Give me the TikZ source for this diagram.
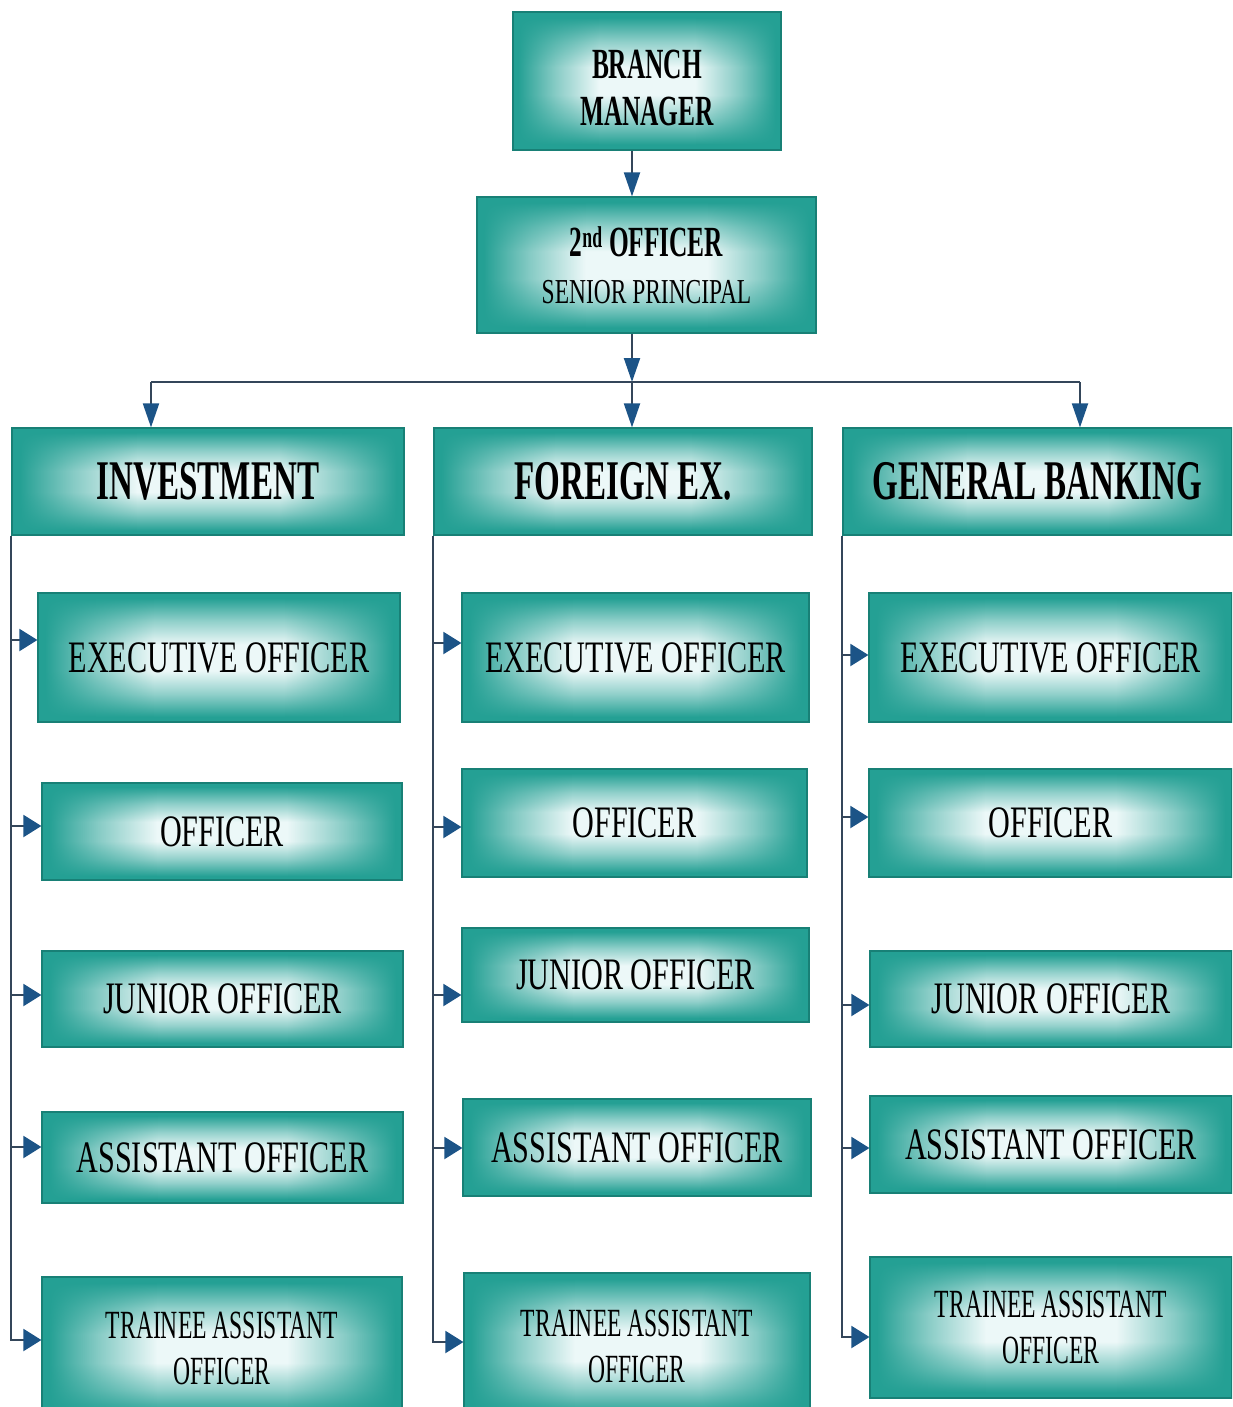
\documentclass[tikz,border=0pt]{standalone}
\usepackage{fontspec}
\setmainfont{Liberation Serif}
\newfontfamily\regfont[FakeStretch=0.67]{Liberation Serif}
\newfontfamily\narfont[FakeStretch=0.59]{Liberation Serif}
\usetikzlibrary{arrows.meta,fadings}

\definecolor{tealc}{RGB}{36,160,148}
\definecolor{tealdk}{RGB}{24,128,118}
\definecolor{glowc}{RGB}{236,248,248}
\definecolor{linec}{RGB}{52,70,90}
\definecolor{tipc}{RGB}{28,84,135}

% vertical profile of the glow: teal bands at top and bottom, pale band in the middle
\pgfdeclareverticalshading{vglow}{100bp}{%
  color(0bp)=(tealc); color(27bp)=(tealc); color(36bp)=(tealc!45!glowc);
  color(45bp)=(glowc); color(55bp)=(glowc); color(64bp)=(tealc!45!glowc);
  color(73bp)=(tealc); color(100bp)=(tealc)}
% horizontal mask of the glow: it fades out towards the left and right sides
\pgfdeclarehorizontalshading{sidemask}{100bp}{%
  color(0bp)=(black); color(26bp)=(black); color(33bp)=(black!50!white);
  color(41bp)=(white); color(59bp)=(white); color(67bp)=(black!50!white);
  color(74bp)=(black); color(100bp)=(black)}
\pgfdeclarefading{sidefade}{\pgfuseshading{sidemask}}

% box given by its left, top, right and bottom edges
\newcommand{\orgbox}[7]{%
  \node[#1, minimum width={#5-#3}, minimum height={#6-#4}] (#2)
    at ({(#3+#5)/2},{(#4+#6)/2}) {#7};}

\begin{document}
\begin{tikzpicture}[x=1pt,y=-1pt,
  box/.style={rectangle, fill=tealc, draw=tealdk, line width=1.2pt,
    inner sep=0pt, align=center, text=black,
    path picture={\shade[shading=vglow, path fading=sidefade]
      (path picture bounding box.south west) rectangle
      (path picture bounding box.north east);}},
  conn/.style={draw=linec, line width=2pt},
  arrv/.style={conn, -{Triangle[length=24pt,width=16pt,fill=tipc,color=tipc]}},
  arrh/.style={conn, -{Triangle[length=18pt,width=22pt,fill=tipc,color=tipc]}},
  head/.style={box, font=\narfont\bfseries\fontsize{43}{47}\selectfont},
  dept/.style={box, font=\narfont\bfseries\fontsize{56}{60}\selectfont},
  rank/.style={box, font=\regfont\fontsize{45}{50}\selectfont},
  trainee/.style={box, font=\narfont\fontsize{40}{46}\selectfont},
]
\fill[white] (0,0) rectangle (1232,1407);
\useasboundingbox (0,0) rectangle (1232,1407);
\begin{scope}
\clip (0,0) rectangle (1232,1407);

% top of the hierarchy
\orgbox{head}{BM}{513}{12}{781}{150}{\\[-4pt]BRANCH\\MANAGER}
\orgbox{head}{SO}{477}{197}{816}{333}{%
  2\textsuperscript{nd} OFFICER\\
  {\regfont\mdseries\fontsize{35}{48}\selectfont SENIOR PRINCIPAL}}

% departments
\orgbox{dept}{INV}{12}{428}{404}{535}{INVESTMENT}
\orgbox{dept}{FX}{434}{428}{812}{535}{FOREIGN EX.}
\orgbox{dept}{GB}{843}{428}{1232}{535}{GENERAL BANKING}

% investment ranks
\orgbox{rank}{I1}{38}{593}{400}{722}{EXECUTIVE OFFICER}
\orgbox{rank}{I2}{42}{783}{402}{880}{OFFICER}
\orgbox{rank}{I3}{42}{951}{403}{1047}{JUNIOR OFFICER}
\orgbox{rank}{I4}{42}{1112}{403}{1203}{ASSISTANT OFFICER}
\orgbox{trainee}{I5}{42}{1277}{402}{1420}{TRAINEE ASSISTANT\\OFFICER}

% foreign exchange ranks
\orgbox{rank}{F1}{462}{593}{809}{722}{EXECUTIVE OFFICER}
\orgbox{rank}{F2}{462}{769}{807}{877}{OFFICER}
\orgbox{rank}{F3}{462}{928}{809}{1022}{JUNIOR OFFICER}
\orgbox{rank}{F4}{463}{1099}{811}{1196}{ASSISTANT OFFICER}
\orgbox{trainee}{F5}{464}{1273}{810}{1420}{TRAINEE ASSISTANT\\OFFICER}

% general banking ranks
\orgbox{rank}{G1}{869}{593}{1232}{722}{EXECUTIVE OFFICER}
\orgbox{rank}{G2}{869}{769}{1232}{877}{OFFICER}
\orgbox{rank}{G3}{870}{951}{1232}{1047}{JUNIOR OFFICER}
\orgbox{rank}{G4}{870}{1096}{1232}{1193}{ASSISTANT OFFICER}
\orgbox{trainee}{G5}{870}{1257}{1232}{1398}{TRAINEE ASSISTANT\\OFFICER}

% branching bar
\coordinate (jl) at (151,382);
\coordinate (jm) at (632,382);
\coordinate (jr) at (1080,382);

\draw[arrv] (BM.south -| jm) -- (SO.north -| jm);
\draw[arrv] (SO.south -| jm) -- (jm);
\draw[conn] (jl) -- (jr);
\draw[arrv] (jl) -- (INV.north -| jl);
\draw[arrv] (jm) -- (FX.north -| jm);
\draw[arrv] (jr) -- (GB.north -| jr);

% investment spine
\draw[arrh] (INV.south west) |- (I5.west |- 0,1340);
\draw[arrh] (INV.south west |- 0,640) -- (I1.west |- 0,640);
\draw[arrh] (INV.south west |- 0,826) -- (I2.west |- 0,826);
\draw[arrh] (INV.south west |- 0,995) -- (I3.west |- 0,995);
\draw[arrh] (INV.south west |- 0,1147) -- (I4.west |- 0,1147);

% foreign exchange spine
\draw[arrh] (FX.south west) |- (F5.west |- 0,1342);
\draw[arrh] (FX.south west |- 0,643) -- (F1.west |- 0,643);
\draw[arrh] (FX.south west |- 0,827) -- (F2.west |- 0,827);
\draw[arrh] (FX.south west |- 0,995) -- (F3.west |- 0,995);
\draw[arrh] (FX.south west |- 0,1148) -- (F4.west |- 0,1148);

% general banking spine
\draw[arrh] (GB.south west) |- (G5.west |- 0,1337);
\draw[arrh] (GB.south west |- 0,655) -- (G1.west |- 0,655);
\draw[arrh] (GB.south west |- 0,817) -- (G2.west |- 0,817);
\draw[arrh] (GB.south west |- 0,1005) -- (G3.west |- 0,1005);
\draw[arrh] (GB.south west |- 0,1148) -- (G4.west |- 0,1148);
\end{scope}
\end{tikzpicture}
\end{document}
